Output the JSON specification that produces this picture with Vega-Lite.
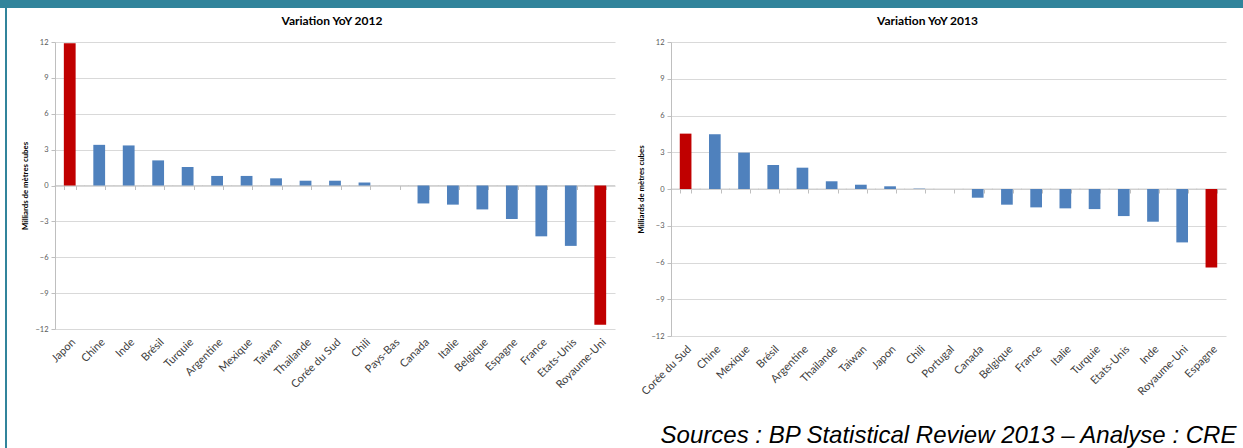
{
  "$schema": "https://vega.github.io/schema/vega-lite/v6.json",
  "padding": 0,
  "background": "white",
  "spacing": 0,
  "datasets": {
    "y2012": [
      {"pays": "Japon", "variation": 11.9},
      {"pays": "Chine", "variation": 3.4},
      {"pays": "Inde", "variation": 3.35},
      {"pays": "Brésil", "variation": 2.1},
      {"pays": "Turquie", "variation": 1.55},
      {"pays": "Argentine", "variation": 0.8},
      {"pays": "Mexique", "variation": 0.8},
      {"pays": "Taiwan", "variation": 0.6},
      {"pays": "Thailande", "variation": 0.4},
      {"pays": "Corée du Sud", "variation": 0.4},
      {"pays": "Chili", "variation": 0.25},
      {"pays": "Pays-Bas", "variation": 0},
      {"pays": "Canada", "variation": -1.5},
      {"pays": "Italie", "variation": -1.6},
      {"pays": "Belgique", "variation": -2.0},
      {"pays": "Espagne", "variation": -2.8},
      {"pays": "France", "variation": -4.25},
      {"pays": "Etats-Unis", "variation": -5.05},
      {"pays": "Royaume-Uni", "variation": -11.65}
    ],
    "y2013": [
      {"pays": "Corée du Sud", "variation": 4.52},
      {"pays": "Chine", "variation": 4.47},
      {"pays": "Mexique", "variation": 2.97},
      {"pays": "Brésil", "variation": 1.96},
      {"pays": "Argentine", "variation": 1.74},
      {"pays": "Thailande", "variation": 0.63},
      {"pays": "Taiwan", "variation": 0.35},
      {"pays": "Japon", "variation": 0.22},
      {"pays": "Chili", "variation": 0.03},
      {"pays": "Portugal", "variation": 0},
      {"pays": "Canada", "variation": -0.71},
      {"pays": "Belgique", "variation": -1.28},
      {"pays": "France", "variation": -1.5},
      {"pays": "Italie", "variation": -1.58},
      {"pays": "Turquie", "variation": -1.64},
      {"pays": "Etats-Unis", "variation": -2.21},
      {"pays": "Inde", "variation": -2.67},
      {"pays": "Royaume-Uni", "variation": -4.36},
      {"pays": "Espagne", "variation": -6.41}
    ]
  },
  "config": {
    "view": {"stroke": null},
    "font": "Lato",
    "title": {"font": "Lato"},
    "axisY": {
      "grid": true, "gridColor": "#d9d9d9",
      "domainColor": "#bfbfbf", "tickColor": "#bfbfbf", "tickSize": 4,
      "labelFontSize": 7.5, "labelColor": "#595959", "labelPadding": 3, "labelFlush": false,
      "titleFontSize": 7.8, "titleFontWeight": "bold", "titleColor": "#000000", "titlePadding": 5
    }
  },
  "vconcat": [
    {
      "width": 1243,
      "height": 8,
      "view": {"fill": "#31849b"},
      "data": {"values": []},
      "mark": "rect",
      "encoding": {}
    },
    {
      "spacing": 0,
      "hconcat": [
        {"width": 5, "height": 1, "data": {"values": []}, "mark": "rect", "encoding": {}},
        {"width": 2, "height": 440, "view": {"fill": "#31849b"}, "data": {"values": []}, "mark": "rect", "encoding": {}},
        {"width": 14, "height": 1, "data": {"values": []}, "mark": "rect", "encoding": {}},
        {
          "spacing": 0,
          "title": {
            "text": "Sources : BP Statistical Review 2013 – Analyse : CRE",
            "orient": "bottom",
            "anchor": "end",
            "font": "Liberation Sans",
            "fontSize": 24,
            "fontStyle": "italic",
            "fontWeight": "normal",
            "color": "#000000",
            "offset": 27,
            "dx": 10
          },
          "vconcat": [
            {"width": 1, "height": 7, "data": {"values": []}, "mark": "rect", "encoding": {}},
            {
              "spacing": 21,
              "hconcat": [
                {
                  "width": 560,
                  "height": 287,
                  "data": {"name": "y2012"},
                  "title": {"text": "Variation YoY 2012", "fontSize": 12, "fontWeight": "bold", "color": "#000000", "offset": 10, "dx": -3},
                  "transform": [
                    {"joinaggregate": [
                      {"op": "max", "field": "variation", "as": "vmax"},
                      {"op": "min", "field": "variation", "as": "vmin"}
                    ]}
                  ],
                  "resolve": {"axis": {"x": "independent"}},
                  "layer": [
                    {
                      "mark": {"type": "tick", "color": "#bfbfbf", "thickness": 1, "size": 30},
                      "encoding": {
                        "x": {
                          "field": "pays", "type": "nominal", "sort": null,
                          "scale": {"paddingInner": 0.6, "paddingOuter": 0.3},
                          "axis": {"orient": "bottom", "offset": -143.5, "labels": false, "domain": false, "grid": false, "ticks": true, "tickBand": "extent", "tickSize": 4, "tickColor": "#bfbfbf", "title": null}
                        },
                        "y": {"datum": 0, "type": "quantitative", "axis": {"title": "Milliards de mètres cubes", "values": [-12, -9, -6, -3, 0, 3, 6, 9, 12]}}
                      }
                    },
                    {
                      "mark": {"type": "bar"},
                      "encoding": {
                        "x": {
                          "field": "pays", "type": "nominal", "sort": null,
                          "scale": {"paddingInner": 0.6, "paddingOuter": 0.3},
                          "axis": {"orient": "bottom", "labelAngle": -45, "labelFontSize": 11, "labelColor": "#404040", "labelPadding": 7, "ticks": false, "domain": false, "grid": false, "title": null}
                        },
                        "y": {
                          "field": "variation", "type": "quantitative",
                          "scale": {"domain": [-12, 12], "nice": false},
                          "axis": {"title": "Milliards de mètres cubes", "values": [-12, -9, -6, -3, 0, 3, 6, 9, 12]}
                        },
                        "color": {
                          "condition": {"test": "datum.variation === datum.vmax || datum.variation === datum.vmin", "value": "#c00000"},
                          "value": "#4f81bd"
                        }
                      }
                    }
                  ]
                },
                {
                  "width": 555,
                  "height": 294,
                  "data": {"name": "y2013"},
                  "title": {"text": "Variation YoY 2013", "fontSize": 12, "fontWeight": "bold", "color": "#000000", "offset": 10, "dx": -21},
                  "transform": [
                    {"joinaggregate": [
                      {"op": "max", "field": "variation", "as": "vmax"},
                      {"op": "min", "field": "variation", "as": "vmin"}
                    ]}
                  ],
                  "resolve": {"axis": {"x": "independent"}},
                  "layer": [
                    {
                      "mark": {"type": "tick", "color": "#bfbfbf", "thickness": 1, "size": 30},
                      "encoding": {
                        "x": {
                          "field": "pays", "type": "nominal", "sort": null,
                          "scale": {"paddingInner": 0.6, "paddingOuter": 0.3},
                          "axis": {"orient": "bottom", "offset": -147, "labels": false, "domain": false, "grid": false, "ticks": true, "tickBand": "extent", "tickSize": 4, "tickColor": "#bfbfbf", "title": null}
                        },
                        "y": {"datum": 0, "type": "quantitative", "axis": {"title": "Milliards de mètres cubes", "values": [-12, -9, -6, -3, 0, 3, 6, 9, 12]}}
                      }
                    },
                    {
                      "mark": {"type": "bar"},
                      "encoding": {
                        "x": {
                          "field": "pays", "type": "nominal", "sort": null,
                          "scale": {"paddingInner": 0.6, "paddingOuter": 0.3},
                          "axis": {"orient": "bottom", "labelAngle": -45, "labelFontSize": 11, "labelColor": "#404040", "labelPadding": 7, "ticks": false, "domain": false, "grid": false, "title": null}
                        },
                        "y": {
                          "field": "variation", "type": "quantitative",
                          "scale": {"domain": [-12, 12], "nice": false},
                          "axis": {"title": "Milliards de mètres cubes", "values": [-12, -9, -6, -3, 0, 3, 6, 9, 12]}
                        },
                        "color": {
                          "condition": {"test": "datum.variation === datum.vmax || datum.variation === datum.vmin", "value": "#c00000"},
                          "value": "#4f81bd"
                        }
                      }
                    }
                  ]
                }
              ]
            }
          ]
        }
      ]
    }
  ]
}
